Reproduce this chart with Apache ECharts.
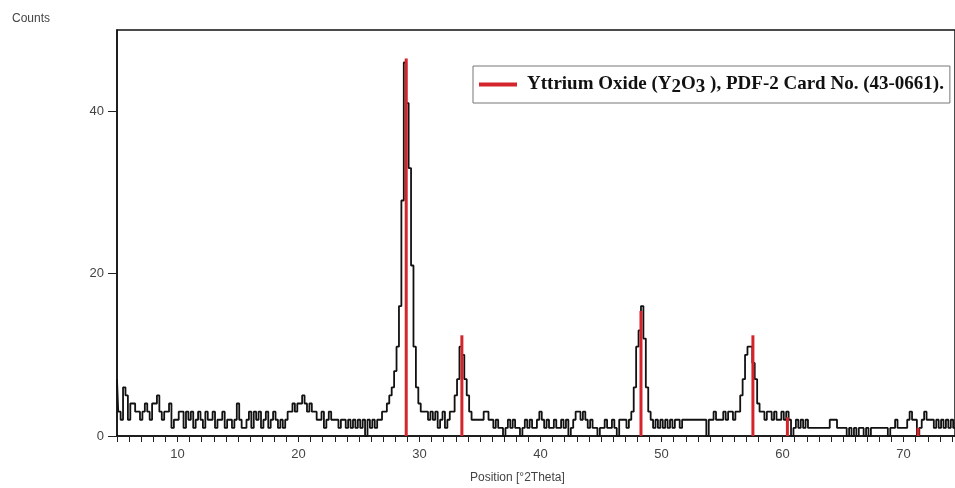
<!DOCTYPE html>
<html>
<head>
<meta charset="utf-8">
<script src="https://cdn.jsdelivr.net/npm/echarts@6/dist/echarts.min.js"></script>
<style>html,body{margin:0;padding:0;background:#fff}#c{width:955px;height:488px}</style>
</head>
<body>
<div id="c"></div>
<script>
// Measurement grid (2Theta), degrees
const thetaStart = 5.0;
const thetaStep = 0.2;
// Measured counts, one per step from 5.0 to 75.0 °2Theta
const counts = [
  7,3,2,6,5,2,4,4,3,3,
  2,3,4,3,2,4,4,5,3,2,
  3,3,4,1,2,2,3,3,1,3,
  2,3,1,2,3,2,1,3,2,2,
  3,1,2,2,3,1,2,2,1,2,
  4,2,1,1,2,3,1,3,2,3,
  1,2,3,1,2,3,2,1,2,1,
  2,3,3,4,3,4,4,5,4,3,
  4,3,3,2,2,3,1,2,3,2,
  2,2,1,2,2,1,2,1,2,1,
  2,1,2,0,2,1,2,1,2,2,
  3,3,4,5,6,8,11,16,29,46,
  41,33,21,11,6,4,3,3,3,2,
  3,2,3,1,2,3,1,2,3,3,
  5,7,11,10,7,5,3,2,2,2,
  2,2,3,3,2,2,1,2,1,1,
  0,1,2,1,2,1,1,0,1,2,
  1,2,1,1,2,3,2,1,2,1,
  1,2,1,1,2,1,2,0,1,2,
  3,3,2,3,2,1,2,1,1,0,
  1,1,2,1,1,2,1,0,2,2,
  2,1,2,3,6,11,13,16,12,6,
  3,2,1,2,1,2,1,2,1,2,
  1,2,2,1,2,2,2,2,2,2,
  2,2,2,2,0,2,2,3,2,2,
  2,3,2,3,3,2,3,3,5,7,
  10,11,11,9,7,4,3,3,2,3,
  3,2,3,2,2,3,2,3,2,0,
  1,2,1,2,1,2,1,1,1,1,
  1,1,1,1,1,2,2,2,1,1,
  1,1,0,1,0,1,0,1,1,0,
  1,0,1,1,1,1,1,1,1,0,
  1,1,2,1,1,1,1,2,3,2,
  2,0,1,2,3,2,2,2,1,2,
  1,2,1,2,1,2,1,2,1,1,
  1
];
// Reference pattern: Yttrium Oxide (Y2O3), PDF-2 Card No. 43-0661
const refPositions = [28.9, 33.5, 48.3, 57.55, 60.4, 71.2];
const refHeights   = [46.5, 12.4, 15.4, 12.4, 2.3, 1.0];
const xTickLabels = [10, 20, 30, 40, 50, 60, 70];
const yTickLabels = [0, 20, 40];
const refName = 'Yttrium Oxide (Y2O3 ), PDF-2 Card No. (43-0661).';

const profile = counts.map((v, i) => [+(thetaStart + i * thetaStep).toFixed(2), v]);
const refData = refPositions.map((p, i) => [p, refHeights[i]]);
const minorTicks = [];
for (let t = 5; t <= 74; t++) minorTicks.push(t);

const chart = echarts.init(document.getElementById('c'), null, {renderer: 'canvas'});
const labelFont = {fontFamily: 'Liberation Sans, Arial, sans-serif', fontSize: 13, color: '#444'};
const serif = 'Liberation Serif, Times New Roman, serif';
chart.setOption({
  animation: false,
  backgroundColor: '#fff',
  grid: {left: 117, top: 30, right: 0, bottom: 52, show: true, borderColor: '#111', borderWidth: 1.5, backgroundColor: 'transparent'},
  xAxis: {
    type: 'value', min: 5, max: 74.25,
    axisLine: {show: true, lineStyle: {color: '#111', width: 1.5}},
    axisTick: {show: true, length: 6, lineStyle: {color: '#222', width: 1}, customValues: minorTicks},
    axisLabel: Object.assign({margin: 12, customValues: xTickLabels}, labelFont),
    splitLine: {show: false}
  },
  yAxis: {
    type: 'value', min: 0, max: 50,
    axisLine: {show: true, lineStyle: {color: '#111', width: 1.5}},
    axisTick: {show: true, length: 9, lineStyle: {color: '#222', width: 1}, customValues: yTickLabels},
    axisLabel: Object.assign({margin: 13, customValues: yTickLabels}, labelFont),
    splitLine: {show: false}
  },
  legend: {
    left: 473, top: 66,
    padding: [6, 6, 6, 6],
    borderColor: '#777', borderWidth: 1,
    itemWidth: 38, itemHeight: 4,
    data: [{name: refName, icon: 'rect'}],
    formatter: function () {
      return '{g|}{a|Yttrium Oxide (Y}{s|2}{a|O}{s|3}{a| ), PDF-2 Card No. (43-0661).}';
    },
    textStyle: {
      rich: {
        g: {width: 5, fontSize: 19, lineHeight: 22},
        a: {fontFamily: serif, fontWeight: 'bold', fontSize: 19, color: '#111', lineHeight: 22},
        s: {fontFamily: serif, fontWeight: 'bold', fontSize: 19, color: '#111', lineHeight: 22, padding: [6, 0, 0, 0]}
      }
    }
  },
  graphic: [
    {type: 'text', left: 12, top: 13, style: {text: 'Counts', font: '12px Liberation Sans, Arial, sans-serif', fill: '#444'}},
    {type: 'text', left: 470, top: 472, style: {text: 'Position [°2Theta]', font: '12px Liberation Sans, Arial, sans-serif', fill: '#444'}}
  ],
  series: [
    {
      name: 'profile', type: 'line', step: 'middle', data: profile,
      symbol: 'none', lineStyle: {color: '#111', width: 1.8}, z: 2, silent: true
    },
    {
      name: refName, type: 'bar', data: refData, barWidth: 3,
      itemStyle: {color: '#d4252c'}, z: 3, silent: true
    }
  ]
});
</script>
</body>
</html>
